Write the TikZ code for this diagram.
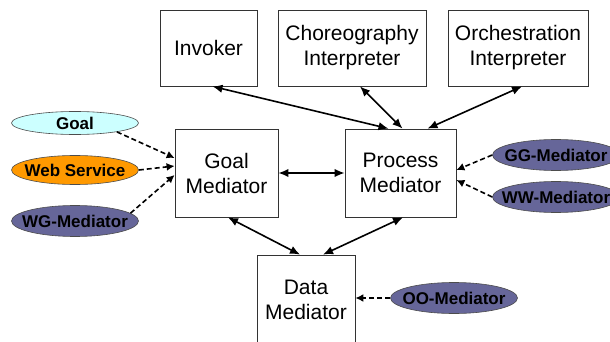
\documentclass[tikz,border=0pt]{standalone}
\usepackage{fontspec}
\setmainfont{Liberation Sans}
\usetikzlibrary{shapes.geometric,arrows.meta,calc}
\definecolor{goalfill}{HTML}{CCFFFF}
\definecolor{wsfill}{HTML}{FF9900}
\definecolor{medfill}{HTML}{666699}
\newcommand\ovtext[1]{\makebox[0pt]{#1}}
\tikzset{
  comp/.style={draw=black!80, line width=0.8pt, fill=white, align=center, inner sep=0pt,
    font=\fontsize{21}{25}\selectfont},
  oval/.style={ellipse, draw=black!70, line width=0.6pt, minimum width=127pt, minimum height=31pt,
    inner sep=0pt, font=\fontsize{17}{20}\selectfont\bfseries},
  link/.style={line width=1.6pt, {Latex[length=10pt,width=8.5pt]}-{Latex[length=10pt,width=8.5pt]}},
  feed/.style={line width=1.6pt, dash pattern=on 5pt off 3pt, -{Latex[length=8pt,width=8pt]}}
}
\begin{document}
\begin{tikzpicture}[x=1pt,y=-1pt]
\useasboundingbox[fill=white] (0,0) rectangle (610,342);
% components
\node[comp, minimum width=97pt, minimum height=76pt] (inv) at (208.5,48) {Invoker};
\node[comp, minimum width=148pt, minimum height=76pt] (cho) at (352,48) {Choreography\\Interpreter};
\node[comp, minimum width=140pt, minimum height=76pt] (orc) at (518,48) {Orchestration\\Interpreter};
\node[comp, minimum width=103pt, minimum height=88pt] (gm) at (226.5,173) {Goal\\Mediator};
\node[comp, minimum width=111pt, minimum height=88pt] (pm) at (400.5,173) {Process\\Mediator};
\node[comp, minimum width=98pt, minimum height=90pt] (dm) at (306,300) {Data\\Mediator};
% ellipses
\node[oval, fill=goalfill, minimum height=23pt] (goal) at (75,123) {\ovtext{Goal}};
\node[oval, fill=wsfill, minimum height=29pt] (ws) at (75,170) {\ovtext{Web Service}};
\node[oval, fill=medfill, minimum height=31pt] (wg) at (75,221) {\ovtext{WG-Mediator}};
\node[oval, fill=medfill] (gg) at (556,155) {\ovtext{GG-Mediator}};
\node[oval, fill=medfill] (ww) at (556,197) {\ovtext{WW-Mediator}};
\node[oval, fill=medfill] (oo) at (454,298) {\ovtext{OO-Mediator}};
% solid links
\draw[link] ($(inv.south)+(4,0)$) -- ($(pm.north)+(-12,0)$);
\draw[link] ($(cho.south)+(8,0)$) -- ($(pm.north)+(2,0)$);
\draw[link] ($(orc.south)+(4,0)$) -- ($(pm.north)+(27,0)$);
\draw[link] (gm.east) -- (pm.west);
\draw[link] ($(gm.south)+(1.5,0)$) -- ($(dm.north)+(-6,0)$);
\draw[link] ($(pm.south)+(2.5,0)$) -- ($(dm.north)+(17,0)$);
% dashed feeds
\draw[feed] (goal.-12) -- ($(gm.west)+(0,-15)$);
\draw[feed] (ws.east) -- ($(gm.west)+(0,-7)$);
\draw[feed] (wg.8) -- ($(gm.west)+(0,2)$);
\draw[feed] (gg.west) -- ($(pm.east)+(0,-3)$);
\draw[feed] (ww.west) -- ($(pm.east)+(0,7)$);
\draw[feed] (oo.west) -- (dm.east |- oo.west);
\end{tikzpicture}
\end{document}
